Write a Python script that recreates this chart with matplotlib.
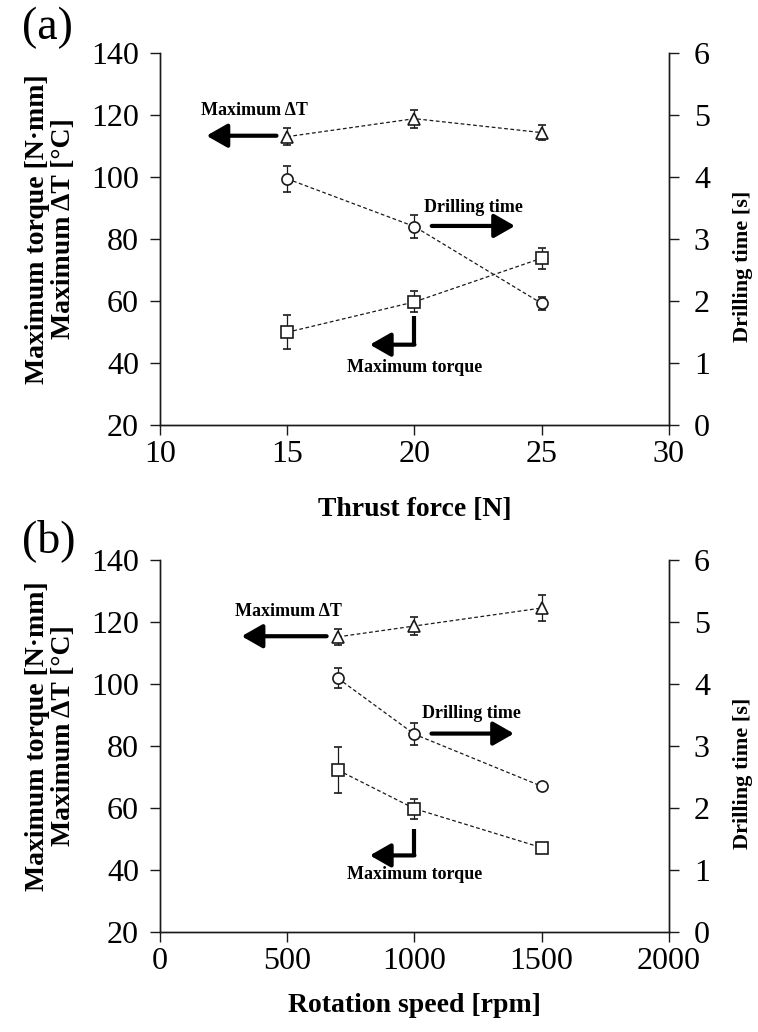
import numpy as np
import matplotlib
matplotlib.use("Agg")
import matplotlib.pyplot as plt

plt.rcParams['font.family'] = ['Liberation Serif', 'DejaVu Serif']

# (a) thrust force series
thrust = [15, 20, 25]
thrust_dT = [113.0, 118.8, 114.3]
thrust_dT_err = [2.7, 2.9, 2.4]
thrust_time = [3.97, 3.20, 1.96]
thrust_time_err = [0.21, 0.19, 0.11]
thrust_torque = [49.9, 59.7, 73.8]
thrust_torque_err = [5.5, 3.4, 3.4]

# (b) rotation speed series
speed = [700, 1000, 1500]
speed_dT = [115.2, 118.7, 124.5]
speed_dT_err = [2.5, 2.9, 4.3]
speed_time = [4.09, 3.19, 2.35]
speed_time_err = [0.16, 0.18, 0.04]
speed_torque = [72.2, 59.8, 47.2]
speed_torque_err = [7.4, 3.2, 1.0]

left_ticks = [20, 40, 60, 80, 100, 120, 140]
right_ticks = [0, 1, 2, 3, 4, 5, 6]

INK = '#1a1a1a'
TICK_FS = 23
LAB_FS = 20
RLAB_FS = 16
ANN_FS = 13


def series(ax, x, y, err, marker, ms):
    ax.errorbar(x, y, yerr=err, color=INK, lw=0.9, ls=(0, (3, 2)),
                marker=marker, ms=ms, mfc='white', mec=INK, mew=1.2,
                ecolor=INK, elinewidth=0.9, capsize=3, capthick=0.9, zorder=3)


def arrow(ax, tail, tip):
    ax.annotate('', xy=tip, xytext=tail,
                arrowprops=dict(arrowstyle='-|>,head_length=0.7,head_width=0.4',
                                lw=3, color='black', mutation_scale=18,
                                shrinkA=0, shrinkB=0))


def panel(ax, x, dT, dT_err, t, t_err, tq, tq_err, xlim, xticks, xlabel, xlab_y, ann):
    ax2 = ax.twinx()
    series(ax, x, dT, dT_err, '^', 8)
    series(ax, x, tq, tq_err, 's', 8)
    series(ax2, x, t, t_err, 'o', 8)

    ax.set_xlim(*xlim)
    ax.set_xticks(xticks)
    ax.set_ylim(20, 140)
    ax.set_yticks(left_ticks)
    ax2.set_ylim(0, 6)
    ax2.set_yticks(right_ticks)

    for a in (ax, ax2):
        a.spines['top'].set_visible(False)
        for s in a.spines.values():
            s.set_color(INK)
            s.set_linewidth(1.0)
        a.tick_params(direction='out', length=7, width=1, color=INK,
                      labelsize=TICK_FS, pad=8)
    ax.tick_params(axis='x', pad=4)
    ax2.tick_params(axis='y', pad=11)

    ax.set_xlabel(xlabel, fontsize=LAB_FS, fontweight='bold')
    ax.xaxis.set_label_coords(0.5, xlab_y)
    ax.set_ylabel('Maximum torque [N\u00b7mm]\nMaximum \u0394T [\u00b0C]',
                  fontsize=LAB_FS, fontweight='bold', linespacing=1.1)
    ax.yaxis.set_label_coords(-0.164, 0.527)
    ax2.set_ylabel('Drilling time [s]', fontsize=RLAB_FS, fontweight='bold')
    ax2.yaxis.set_label_coords(1.125, 0.427)

    # annotations
    ax.text(*ann['dT_text'], 'Maximum \u0394T', fontsize=ANN_FS,
            fontweight='bold', ha='center', va='center')
    arrow(ax, ann['dT_tail'], ann['dT_tip'])
    ax.text(*ann['t_text'], 'Drilling time', fontsize=ANN_FS,
            fontweight='bold', ha='center', va='center')
    arrow(ax, ann['t_tail'], ann['t_tip'])
    ax.text(*ann['tq_text'], 'Maximum torque', fontsize=ANN_FS,
            fontweight='bold', ha='center', va='center')
    ex, ey1, ey2 = ann['tq_elbow']
    ax.plot([ex, ex], [ey1, ey2], color='black', lw=3, solid_capstyle='butt')
    arrow(ax, (ex, ey2), ann['tq_tip'])


fig = plt.figure(figsize=(7.58, 10.32), dpi=100)
ax_a = fig.add_axes([0.211, 0.5882, 0.6715, 0.3605])
ax_b = fig.add_axes([0.211, 0.0969, 0.6715, 0.3605])

panel(ax_a, thrust, thrust_dT, thrust_dT_err, thrust_time, thrust_time_err,
      thrust_torque, thrust_torque_err, (10, 30), [10, 15, 20, 25, 30],
      'Thrust force [N]', -0.194,
      dict(dT_text=(13.73, 121.4), dT_tail=(14.58, 113.3), dT_tip=(11.83, 113.3),
           t_text=(22.31, 90.2), t_tail=(20.68, 84.2), t_tip=(23.95, 84.2),
           tq_text=(20.02, 38.6), tq_elbow=(20.0, 55.3, 45.9), tq_tip=(18.25, 45.9)))

panel(ax_b, speed, speed_dT, speed_dT_err, speed_time, speed_time_err,
      speed_torque, speed_torque_err, (0, 2000), [0, 500, 1000, 1500, 2000],
      'Rotation speed [rpm]', -0.165,
      dict(dT_text=(503, 123.5), dT_tail=(655, 115.4), dT_tip=(321, 115.4),
           t_text=(1225, 90.4), t_tail=(1067, 84.0), t_tip=(1391, 84.0),
           tq_text=(1001, 38.6), tq_elbow=(1000, 53.3, 44.7), tq_tip=(825, 44.7)))

fig.text(0.029, 0.973, '(a)', fontsize=33, ha='left', va='center')
fig.text(0.029, 0.4758, '(b)', fontsize=33, ha='left', va='center')

fig.savefig('out.png', dpi=100)
